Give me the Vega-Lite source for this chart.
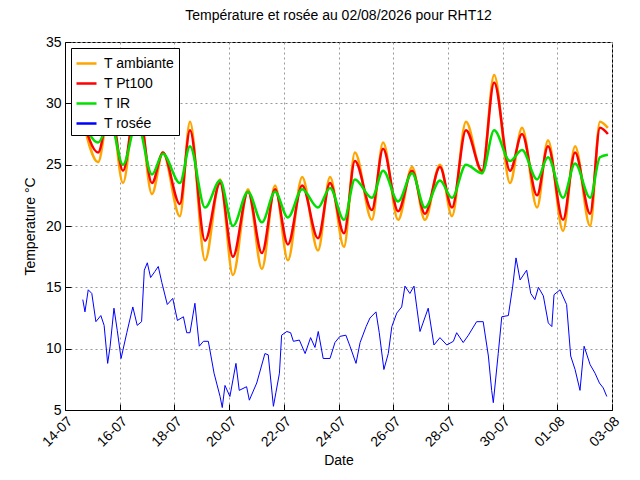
{
  "$schema": "https://vega.github.io/schema/vega-lite/v6.json",
  "autosize": "none",
  "width": 547,
  "height": 368,
  "padding": {"left": 65, "top": 42, "right": 28, "bottom": 70},
  "background": "white",
  "title": {"text": "Température et rosée au 02/08/2026 pour RHT12", "font": "Liberation Sans", "fontSize": 14, "fontWeight": "normal", "offset": 12},
  "config": {
    "view": {"stroke": "black", "strokeWidth": 1},
    "font": "Liberation Sans",
    "axis": {"gridDash": [2, 3], "gridColor": "#999", "gridOpacity": 1, "domainColor": "black", "tickColor": "black", "tickSize": -6, "labelFontSize": 14, "titleFontSize": 14, "titleFontWeight": "normal", "labelColor": "black", "titleColor": "black", "labelPadding": 10}
  },
  "datasets": {
    "temps": [
      {"jour": 0.62, "amb": 29.0, "pt100": 29.0, "ir": 28.8},
      {"jour": 1.21, "amb": 25.2, "pt100": 26.0, "ir": 26.8},
      {"jour": 1.65, "amb": 30.0, "pt100": 29.8, "ir": 28.5},
      {"jour": 2.12, "amb": 23.5, "pt100": 24.5, "ir": 25.0},
      {"jour": 2.63, "amb": 31.0, "pt100": 30.5, "ir": 28.5},
      {"jour": 3.18, "amb": 22.6, "pt100": 23.5, "ir": 24.2},
      {"jour": 3.58, "amb": 26.0, "pt100": 26.0, "ir": 25.9},
      {"jour": 4.20, "amb": 20.8, "pt100": 21.8, "ir": 23.5},
      {"jour": 4.57, "amb": 28.5, "pt100": 27.8, "ir": 26.5},
      {"jour": 5.12, "amb": 17.2, "pt100": 18.8, "ir": 21.5},
      {"jour": 5.67, "amb": 23.8, "pt100": 23.5, "ir": 23.7},
      {"jour": 6.14, "amb": 16.0, "pt100": 17.5, "ir": 20.0},
      {"jour": 6.69, "amb": 23.0, "pt100": 22.8, "ir": 22.8},
      {"jour": 7.20, "amb": 16.5, "pt100": 17.8, "ir": 20.3},
      {"jour": 7.68, "amb": 23.3, "pt100": 23.0, "ir": 22.8},
      {"jour": 8.15, "amb": 17.2, "pt100": 18.5, "ir": 20.7},
      {"jour": 8.67, "amb": 24.0, "pt100": 23.3, "ir": 23.0},
      {"jour": 9.25, "amb": 18.0, "pt100": 19.0, "ir": 21.5},
      {"jour": 9.69, "amb": 24.0, "pt100": 23.5, "ir": 23.1},
      {"jour": 10.20, "amb": 18.3, "pt100": 19.4, "ir": 20.5},
      {"jour": 10.60, "amb": 26.0, "pt100": 25.3, "ir": 23.8},
      {"jour": 11.22, "amb": 20.5, "pt100": 21.3, "ir": 22.3},
      {"jour": 11.63, "amb": 26.8, "pt100": 26.3, "ir": 24.5},
      {"jour": 12.18, "amb": 20.5, "pt100": 21.2, "ir": 22.0},
      {"jour": 12.69, "amb": 24.8, "pt100": 24.5, "ir": 24.3},
      {"jour": 13.16, "amb": 20.5, "pt100": 21.0, "ir": 21.5},
      {"jour": 13.71, "amb": 25.0, "pt100": 24.8, "ir": 23.7},
      {"jour": 14.15, "amb": 20.8, "pt100": 21.5, "ir": 22.3},
      {"jour": 14.66, "amb": 28.5, "pt100": 27.8, "ir": 25.0},
      {"jour": 15.25, "amb": 24.3, "pt100": 24.5, "ir": 24.3},
      {"jour": 15.69, "amb": 32.3, "pt100": 31.7, "ir": 27.8},
      {"jour": 16.27, "amb": 23.5, "pt100": 24.5, "ir": 25.3},
      {"jour": 16.71, "amb": 28.0, "pt100": 27.5, "ir": 26.2},
      {"jour": 17.26, "amb": 21.5, "pt100": 22.5, "ir": 23.8},
      {"jour": 17.66, "amb": 27.0, "pt100": 26.5, "ir": 25.6},
      {"jour": 18.21, "amb": 19.6, "pt100": 20.5, "ir": 22.3},
      {"jour": 18.65, "amb": 26.5, "pt100": 26.0, "ir": 25.1},
      {"jour": 19.20, "amb": 20.0, "pt100": 21.0, "ir": 22.3},
      {"jour": 19.56, "amb": 28.5, "pt100": 28.0, "ir": 25.6},
      {"jour": 19.85, "amb": 28.0, "pt100": 27.5, "ir": 25.8}
    ],
    "rosee": [
      {"jour": 0.65, "T": 14.0}, {"jour": 0.73, "T": 13.0}, {"jour": 0.85, "T": 14.8}, {"jour": 0.98, "T": 14.5},
      {"jour": 1.13, "T": 12.2}, {"jour": 1.31, "T": 12.7}, {"jour": 1.43, "T": 11.9}, {"jour": 1.56, "T": 8.8},
      {"jour": 1.65, "T": 10.2}, {"jour": 1.79, "T": 13.3}, {"jour": 1.91, "T": 11.5}, {"jour": 2.05, "T": 9.2},
      {"jour": 2.26, "T": 11.3}, {"jour": 2.48, "T": 13.4}, {"jour": 2.64, "T": 11.9}, {"jour": 2.80, "T": 12.2},
      {"jour": 2.90, "T": 16.4}, {"jour": 3.01, "T": 17.0}, {"jour": 3.13, "T": 15.8}, {"jour": 3.29, "T": 16.3},
      {"jour": 3.41, "T": 16.7}, {"jour": 3.54, "T": 15.4}, {"jour": 3.74, "T": 13.6}, {"jour": 3.94, "T": 14.1},
      {"jour": 4.11, "T": 12.3}, {"jour": 4.33, "T": 12.6}, {"jour": 4.45, "T": 11.3}, {"jour": 4.57, "T": 11.3},
      {"jour": 4.75, "T": 13.7}, {"jour": 4.91, "T": 10.2}, {"jour": 5.06, "T": 10.6}, {"jour": 5.24, "T": 10.6},
      {"jour": 5.45, "T": 8.0}, {"jour": 5.67, "T": 6.1}, {"jour": 5.75, "T": 5.2}, {"jour": 5.85, "T": 7.0},
      {"jour": 6.03, "T": 6.1}, {"jour": 6.25, "T": 8.8}, {"jour": 6.37, "T": 6.6}, {"jour": 6.64, "T": 6.9},
      {"jour": 6.74, "T": 5.8}, {"jour": 7.01, "T": 7.2}, {"jour": 7.31, "T": 9.6}, {"jour": 7.43, "T": 9.5},
      {"jour": 7.62, "T": 5.3}, {"jour": 7.71, "T": 6.4}, {"jour": 7.84, "T": 8.0}, {"jour": 7.92, "T": 11.1},
      {"jour": 8.11, "T": 11.4}, {"jour": 8.25, "T": 11.3}, {"jour": 8.35, "T": 10.6}, {"jour": 8.57, "T": 10.7},
      {"jour": 8.78, "T": 9.6}, {"jour": 8.98, "T": 10.9}, {"jour": 9.14, "T": 10.1}, {"jour": 9.26, "T": 11.4},
      {"jour": 9.44, "T": 9.2}, {"jour": 9.69, "T": 9.2}, {"jour": 9.87, "T": 10.5}, {"jour": 10.05, "T": 11.0},
      {"jour": 10.27, "T": 11.1}, {"jour": 10.42, "T": 10.2}, {"jour": 10.64, "T": 8.8}, {"jour": 10.79, "T": 10.5},
      {"jour": 11.01, "T": 11.8}, {"jour": 11.15, "T": 12.5}, {"jour": 11.37, "T": 13.0}, {"jour": 11.49, "T": 11.3},
      {"jour": 11.66, "T": 8.3}, {"jour": 11.82, "T": 9.6}, {"jour": 11.95, "T": 11.8}, {"jour": 12.13, "T": 12.9},
      {"jour": 12.31, "T": 13.4}, {"jour": 12.43, "T": 15.1}, {"jour": 12.61, "T": 14.5}, {"jour": 12.76, "T": 15.1},
      {"jour": 12.86, "T": 13.4}, {"jour": 12.98, "T": 11.4}, {"jour": 13.28, "T": 13.3}, {"jour": 13.49, "T": 10.3},
      {"jour": 13.71, "T": 10.9}, {"jour": 13.96, "T": 10.3}, {"jour": 14.20, "T": 10.6}, {"jour": 14.32, "T": 11.3},
      {"jour": 14.56, "T": 10.5}, {"jour": 14.75, "T": 11.1}, {"jour": 15.05, "T": 12.2}, {"jour": 15.29, "T": 12.2},
      {"jour": 15.48, "T": 9.4}, {"jour": 15.60, "T": 6.6}, {"jour": 15.66, "T": 5.6}, {"jour": 15.84, "T": 9.6},
      {"jour": 15.97, "T": 12.6}, {"jour": 16.21, "T": 12.7}, {"jour": 16.37, "T": 15.1}, {"jour": 16.49, "T": 17.4},
      {"jour": 16.64, "T": 15.6}, {"jour": 16.88, "T": 16.4}, {"jour": 17.03, "T": 14.5}, {"jour": 17.18, "T": 14.0},
      {"jour": 17.31, "T": 15.0}, {"jour": 17.49, "T": 14.3}, {"jour": 17.67, "T": 12.1}, {"jour": 17.80, "T": 11.8},
      {"jour": 17.88, "T": 14.4}, {"jour": 18.10, "T": 14.8}, {"jour": 18.34, "T": 13.6}, {"jour": 18.49, "T": 9.4},
      {"jour": 18.65, "T": 8.3}, {"jour": 18.83, "T": 6.6}, {"jour": 18.98, "T": 10.2}, {"jour": 19.20, "T": 8.7},
      {"jour": 19.38, "T": 8.0}, {"jour": 19.54, "T": 7.2}, {"jour": 19.68, "T": 6.8}, {"jour": 19.81, "T": 6.1}
    ]
  },
  "encoding": {
    "x": {"type": "quantitative", "scale": {"domain": [0, 20], "nice": false},
      "axis": {"title": "Date", "values": [0, 2, 4, 6, 8, 10, 12, 14, 16, 18, 20], "labelAngle": -45, "labelAlign": "right", "labelBaseline": "top",
        "labelExpr": "timeFormat(datetime(2026, 6, 14 + datum.value), '%d-%m')", "titlePadding": 4}},
    "y": {"type": "quantitative", "scale": {"domain": [5, 35], "nice": false},
      "axis": {"title": "Temperature °C", "values": [5, 10, 15, 20, 25, 30, 35], "titlePadding": 8}},
    "color": {"type": "nominal",
      "scale": {"domain": ["T ambiante", "T Pt100", "T IR", "T rosée"], "range": ["#ffa500", "#ff0000", "#00e000", "#0000ff"]},
      "legend": {"title": null, "orient": "top-left", "offset": 6, "labelFontSize": 14, "symbolType": "stroke", "symbolSize": 400, "symbolStrokeWidth": 2.5,
        "strokeColor": "black", "fillColor": "white", "padding": 4, "rowPadding": 1, "labelOffset": 6}}
  },
  "layer": [
    {
      "data": {"name": "temps"},
      "transform": [{"fold": ["amb", "pt100", "ir"], "as": ["k", "v"]}, {"lookup": "k", "from": {"data": {"values": [{"k": "amb", "serie": "T ambiante"}, {"k": "pt100", "serie": "T Pt100"}, {"k": "ir", "serie": "T IR"}]}, "key": "k", "fields": ["serie"]}}],
      "mark": {"type": "line", "strokeWidth": 2.5, "interpolate": "monotone"},
      "encoding": {
        "x": {"field": "jour", "type": "quantitative"},
        "y": {"field": "v", "type": "quantitative"},
        "color": {"field": "serie", "type": "nominal"}
      }
    },
    {
      "data": {"name": "rosee"},
      "mark": {"type": "line", "strokeWidth": 1},
      "encoding": {
        "x": {"field": "jour", "type": "quantitative"},
        "y": {"field": "T", "type": "quantitative"},
        "color": {"datum": "T rosée"}
      }
    }
  ],
  "resolve": {"scale": {"color": "shared"}}
}
